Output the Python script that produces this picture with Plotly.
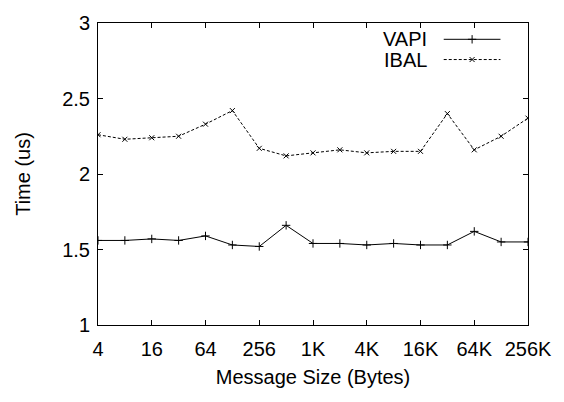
import plotly.graph_objects as go

# Message sizes in bytes: 4 B .. 256 KB, doubling each step
sizes = [4, 8, 16, 32, 64, 128, 256, 512, 1024, 2048, 4096, 8192,
         16384, 32768, 65536, 131072, 262144]

# Latency in microseconds
vapi = [1.56, 1.56, 1.57, 1.56, 1.59, 1.53, 1.52, 1.66, 1.54, 1.54,
        1.53, 1.54, 1.53, 1.53, 1.62, 1.55, 1.55]
ibal = [2.26, 2.23, 2.24, 2.25, 2.33, 2.42, 2.17, 2.12, 2.14, 2.16,
        2.14, 2.15, 2.15, 2.40, 2.16, 2.25, 2.37]

x_tickvals = [4, 16, 64, 256, 1024, 4096, 16384, 65536, 262144]
x_ticktext = ["4", "16", "64", "256", "1K", "4K", "16K", "64K", "256K"]
y_tickvals = [1, 1.5, 2, 2.5, 3]
y_ticktext = ["1", "1.5", "2", "2.5", "3"]

FONT = "Liberation Sans, Arial, Helvetica, sans-serif"
FSIZE = 20

fig = go.Figure()

fig.add_trace(go.Scatter(
    x=sizes, y=vapi, mode="lines+markers", name="VAPI",
    line=dict(color="black", width=1),
    marker=dict(symbol="cross-thin", size=6, line=dict(color="black", width=1)),
    showlegend=False,
))
fig.add_trace(go.Scatter(
    x=sizes, y=ibal, mode="lines+markers", name="IBAL",
    line=dict(color="black", width=1, dash="3px,2px"),
    marker=dict(symbol="x-thin", size=5, line=dict(color="black", width=1)),
    showlegend=False,
))

# Key in the top-right corner: label on the left, sample line on the right
key = [("VAPI", "solid", "cross-thin", 6, 0.946),
       ("IBAL", "3px,2px", "x-thin", 5, 0.879)]
for label, dash, sym, msz, ky in key:
    fig.add_shape(
        type="line", xref="paper", yref="paper",
        x0=0.804, x1=0.936, y0=ky, y1=ky,
        line=dict(color="black", width=1, dash=dash),
    )
    fig.add_trace(go.Scatter(
        x=[0.870], y=[ky], xaxis="x2", yaxis="y2", mode="markers",
        marker=dict(symbol=sym, size=msz, line=dict(color="black", width=1)),
        showlegend=False, hoverinfo="skip",
    ))
    fig.add_annotation(
        x=0.770, y=ky, xref="paper", yref="paper", text=label,
        showarrow=False, xanchor="right", yanchor="middle",
        font=dict(family=FONT, size=FSIZE, color="black"),
    )

axis_common = dict(
    showgrid=False, zeroline=False, showline=True, linecolor="black",
    linewidth=1, mirror="allticks", ticks="inside", ticklen=5,
    tickcolor="black", tickwidth=1,
    tickfont=dict(family=FONT, size=FSIZE, color="black"),
)

fig.update_layout(
    width=564, height=402,
    margin=dict(l=98, r=28, t=16, b=77),
    paper_bgcolor="white", plot_bgcolor="white",
    font=dict(family=FONT, size=FSIZE, color="black"),
    xaxis=dict(
        type="log", range=[0.60206, 5.41854],
        tickvals=x_tickvals, ticktext=x_ticktext, ticklabelstandoff=6,
        title=dict(text="Message Size (Bytes)", standoff=10,
                   font=dict(family=FONT, size=FSIZE, color="black")),
        **axis_common,
    ),
    yaxis=dict(
        range=[1, 3], tickvals=y_tickvals, ticktext=y_ticktext,
        ticklabelstandoff=3,
        title=dict(text="Time (us)", standoff=26,
                   font=dict(family=FONT, size=FSIZE, color="black")),
        **axis_common,
    ),
    xaxis2=dict(overlaying="x", range=[0, 1], visible=False),
    yaxis2=dict(overlaying="y", range=[0, 1], visible=False),
    showlegend=False,
)

fig.write_html("out.html")
